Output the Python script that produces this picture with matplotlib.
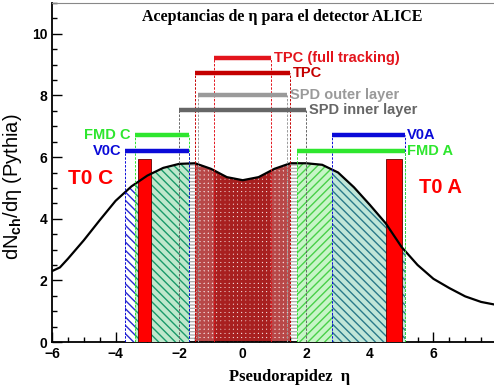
import matplotlib
matplotlib.use("Agg")
from matplotlib import pyplot as plt
from matplotlib.patches import Rectangle
from matplotlib.ticker import MultipleLocator

# curva dN/deta de Pythia
eta = [-6.0, -5.75, -5.5, -5.0, -4.5, -4.0, -3.5, -3.0, -2.5, -2.0, -1.5, -1.0, -0.5, 0.0,
       0.5, 1.0, 1.5, 2.0, 2.5, 3.0, 3.5, 4.0, 4.5, 5.0, 5.5, 6.0, 6.5, 7.0, 7.5, 8.0]
dndeta = [2.30, 2.42, 2.70, 3.30, 3.95, 4.58, 5.05, 5.40, 5.65, 5.78, 5.80, 5.62, 5.35, 5.25,
          5.35, 5.62, 5.80, 5.80, 5.75, 5.50, 5.02, 4.45, 3.85, 3.08, 2.50, 2.05, 1.75, 1.48, 1.30, 1.20]

# aceptancias de los detectores (barras horizontales)
det_names = ["TPC (full tracking)", "TPC", "SPD outer layer", "SPD inner layer",
             "FMD C", "V0C", "V0A", "FMD A"]
det_min = [-0.9, -1.5, -1.4, -2.0, -3.4, -3.7, 2.8, 1.7]
det_max = [0.9, 1.5, 1.4, 2.0, -1.7, -1.7, 5.1, 5.1]
det_level = [9.2, 8.72, 8.0, 7.52, 6.72, 6.19, 6.72, 6.19]

# T0
t0_names = ["T0 C", "T0 A"]
t0_min = [-3.3, 4.5]
t0_max = [-2.9, 5.0]
t0_height = [5.95, 5.95]

colors = ["#e3141c", "#c40000", "#9a9a9a", "#666666", "#2ee62e", "#0a0ad8", "#0a0ad8", "#2ee62e"]
label_side = ["r", "r", "r", "r", "l", "l", "r", "r"]

plt.rcParams['font.family'] = ['Liberation Sans', 'DejaVu Sans']
plt.rcParams['font.weight'] = 'bold'
plt.rcParams['mathtext.fontset'] = 'custom'
plt.rcParams['mathtext.rm'] = 'Liberation Sans:bold'
plt.rcParams['mathtext.bf'] = 'Liberation Sans:bold'
plt.rcParams['hatch.linewidth'] = 1.0

fig = plt.figure(figsize=(4.94, 3.87), dpi=100)
ax = fig.add_axes([52 / 494, 45 / 387, 445 / 494, 339 / 387])
ax.set_xlim(-6, 8)
ax.set_ylim(0, 11)


def region(a, b, face, hatch, hcolor, z):
    f = ax.fill_between(eta, dndeta, 0, facecolor=face, hatch=hatch, edgecolor=hcolor,
                        linewidth=0, zorder=z)
    f.set_clip_path(Rectangle((a, 0), b - a, 11, transform=ax.transData))


# zonas sombreadas bajo la curva
region(det_min[3], det_max[3], "white", "-----", "#b0b0b0", 1)
with plt.rc_context({'hatch.linewidth': 2.0}):
    region(det_min[1], det_max[1], "#f0d4d4", "++++", "#b84848", 2)
    region(det_min[0], det_max[0], "none", "++++", "#a82020", 2.1)
region(det_min[5], det_max[5], "white", "\\\\\\\\", "#2a2ad0", 3)
region(det_min[4], det_max[4], "#bfe8cc", "\\\\\\\\", "#1a9a6a", 3.1)
region(det_min[7], det_max[7], "#c8f5c8", "////", "#4ad04a", 3)
region(det_min[6], det_max[6], "#c0e6d8", "\\\\\\\\", "#2a7a8a", 3.1)

# T0 barras rojas
ax.bar(t0_min, t0_height, width=[b - a for a, b in zip(t0_min, t0_max)], align="edge",
       color="#ff0000", edgecolor="#600000", linewidth=0.6, zorder=5)

ax.plot(eta, dndeta, color="black", lw=1.6, zorder=6)

# barras de aceptancia con lineas punteadas
for name, a, b, y, c, s in zip(det_names, det_min, det_max, det_level, colors, label_side):
    ax.plot([a, a], [0, y], color=c, lw=0.7, ls=(0, (2.5, 1.5)), zorder=6)
    ax.plot([b, b], [0, y], color=c, lw=0.7, ls=(0, (2.5, 1.5)), zorder=6)
    ax.plot([a, b], [y, y], color=c, lw=3.2, solid_capstyle="butt", zorder=7)
    if s == "r":
        ax.text(b + 0.08, y, name, color=c, fontsize=10.5, va="center", ha="left", zorder=8)
    else:
        ax.text(a - 0.12, y, name, color=c, fontsize=10.5, va="center", ha="right", zorder=8)

ax.text(-5.5, 5.3, t0_names[0], color="#ff0000", fontsize=15, va="center", ha="left")
ax.text(5.55, 5.0, t0_names[1], color="#ff0000", fontsize=14.5, va="center", ha="left")

ax.text(1.25, 10.55, "Aceptancias de η para el detector ALICE", fontsize=11.5,
        family="Liberation Serif", weight="bold", ha="center", va="center")

ax.set_xlabel("Pseudorapidez  η", fontsize=12, family="Liberation Serif", weight="bold")
ax.xaxis.set_label_coords((290 - 52) / 445, -0.08)
ax.set_ylabel("dN$_{\\mathbf{ch}}$/dη (Pythia)", fontsize=14.5)
ax.yaxis.set_label_coords(-0.062, (342 - 187) / 339)

ax.xaxis.set_major_locator(MultipleLocator(2))
ax.xaxis.set_minor_locator(MultipleLocator(0.5))
ax.yaxis.set_major_locator(MultipleLocator(2))
ax.yaxis.set_minor_locator(MultipleLocator(0.5))
ax.tick_params(which="both", direction="in", labelsize=10, width=1)
ax.tick_params(which="major", length=7)
ax.tick_params(which="minor", length=3.5)
ax.set_yticks([0, 2, 4, 6, 8, 10])
for sp in ["left", "bottom"]:
    ax.spines[sp].set_linewidth(1.3)
ax.spines["top"].set_color("#888888")

fig.savefig("out.png", dpi=100)
